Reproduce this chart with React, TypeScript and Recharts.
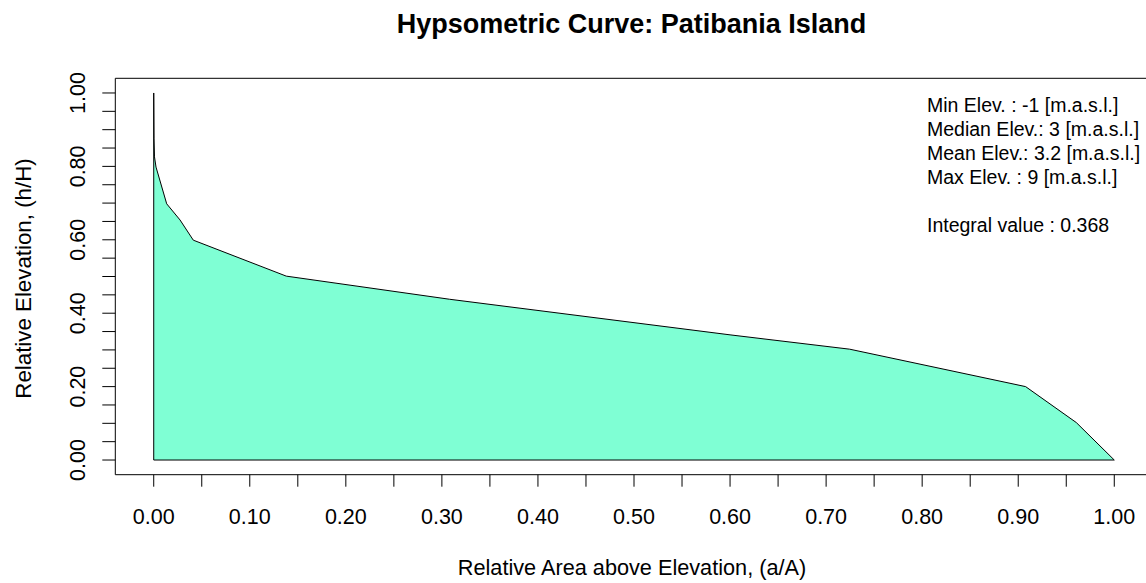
import React from 'react';
import { ComposedChart, Area, XAxis, YAxis, ReferenceArea, ReferenceLine } from 'recharts';

// Relative area above elevation (a/A)
const areaRatio = [0, 0, 0.0003, 0.0008, 0.0024, 0.0135, 0.0274, 0.0412, 0.138, 0.308, 0.600, 0.7245, 0.9077, 0.9605, 1.0];
// Relative elevation (h/H)
const heightRatio = [0, 1.0, 0.875, 0.826, 0.798, 0.698, 0.654, 0.599, 0.501, 0.438, 0.341, 0.302, 0.200, 0.102, 0.0];

const xTicks = [0, 0.05, 0.1, 0.15, 0.2, 0.25, 0.3, 0.35, 0.4, 0.45, 0.5, 0.55, 0.6, 0.65, 0.7, 0.75, 0.8, 0.85, 0.9, 0.95, 1.0];
const yTicks = [0, 0.05, 0.1, 0.15, 0.2, 0.25, 0.3, 0.35, 0.4, 0.45, 0.5, 0.55, 0.6, 0.65, 0.7, 0.75, 0.8, 0.85, 0.9, 0.95, 1.0];
const xLabelled = [0, 0.1, 0.2, 0.3, 0.4, 0.5, 0.6, 0.7, 0.8, 0.9, 1.0];
const yLabelled = [0, 0.2, 0.4, 0.6, 0.8, 1.0];

const statLines = [
  'Min Elev. : -1 [m.a.s.l.]',
  'Median Elev.: 3 [m.a.s.l.]',
  'Mean Elev.: 3.2 [m.a.s.l.]',
  'Max Elev. : 9 [m.a.s.l.]',
  '',
  'Integral value : 0.368',
];

const title = 'Hypsometric Curve: Patibania Island';
const xTitle = 'Relative Area above Elevation, (a/A)';
const yTitle = 'Relative Elevation, (h/H)';

const data = areaRatio.map((x, i) => ({ x, y: heightRatio[i] }));

const FONT = '"Liberation Sans", Arial, Helvetica, sans-serif';
const isLabelled = (v: number, list: number[]) => list.some((t) => Math.abs(t - v) < 1e-9);

const XTick = (props: any) => {
  const { x, y, payload } = props;
  if (!isLabelled(payload.value, xLabelled)) return <g />;
  return (
    <text x={x} y={y + 35} textAnchor="middle" fontFamily={FONT} fontSize={21.5} fill="#000">
      {Number(payload.value).toFixed(2)}
    </text>
  );
};

const YTick = (props: any) => {
  const { x, y, payload } = props;
  if (!isLabelled(payload.value, yLabelled)) return <g />;
  const bx = x - 15;
  return (
    <text x={bx} y={y} transform={`rotate(-90, ${bx}, ${y})`} textAnchor="middle" fontFamily={FONT} fontSize={21.5} fill="#000">
      {Number(payload.value).toFixed(2)}
    </text>
  );
};

const XTitle = (props: any) => {
  const { viewBox } = props;
  const cx = viewBox.x + viewBox.width / 2 - 2;
  return (
    <text x={cx} y={575} textAnchor="middle" fontFamily={FONT} fontSize={21.7} fill="#000">
      {xTitle}
    </text>
  );
};

const YTitle = (props: any) => {
  const { viewBox } = props;
  const cy = viewBox.y + viewBox.height / 2 + 2;
  const bx = 31;
  return (
    <text x={bx} y={cy} transform={`rotate(-90, ${bx}, ${cy})`} textAnchor="middle" fontFamily={FONT} fontSize={22.3} fill="#000">
      {yTitle}
    </text>
  );
};

export default function App() {
  return (
    <div style={{ position: 'absolute', left: 0, top: 0, width: 1146, height: 583, overflow: 'hidden', background: '#fff' }}>
      <ComposedChart
        width={1160}
        height={583}
        data={data}
        margin={{ top: 78.3, right: 7.3, bottom: 0, left: 0 }}
      >
        <XAxis
          type="number"
          dataKey="x"
          domain={[-0.04, 1.04]}
          ticks={xTicks}
          interval={0}
          tickSize={12}
          tickLine={{ stroke: '#000', strokeWidth: 1 }}
          axisLine={false}
          tick={<XTick />}
          height={108.3}
          label={<XTitle />}
        />
        <YAxis
          type="number"
          dataKey="y"
          domain={[-0.04, 1.04]}
          ticks={yTicks}
          interval={0}
          tickSize={13}
          tickLine={{ stroke: '#000', strokeWidth: 1 }}
          axisLine={false}
          tick={<YTick />}
          width={115.3}
          label={<YTitle />}
        />
        <Area
          type="linear"
          dataKey="y"
          stroke="#000"
          strokeWidth={1}
          fill="#7FFFD4"
          fillOpacity={1}
          dot={false}
          activeDot={false}
          isAnimationActive={false}
        />
        <ReferenceLine
          segment={[{ x: areaRatio[0], y: 0 }, { x: areaRatio[areaRatio.length - 1], y: 0 }]}
          stroke="#000"
          strokeWidth={1}
        />
        <ReferenceArea x1={-0.04} x2={1.04} y1={-0.04} y2={1.04} fill="none" fillOpacity={0} stroke="#000" strokeWidth={1} />
      </ComposedChart>
      <svg width={1146} height={583} style={{ position: 'absolute', left: 0, top: 0, pointerEvents: 'none' }}>
        <text x={631.5} y={33} textAnchor="middle" fontFamily={FONT} fontSize={27} fontWeight="bold" fill="#000">
          {title}
        </text>
        {statLines.map((s, i) => (
          <text key={i} x={927} y={112 + i * 24} fontFamily={FONT} fontSize={19.5} fill="#000">
            {s}
          </text>
        ))}
      </svg>
    </div>
  );
}
